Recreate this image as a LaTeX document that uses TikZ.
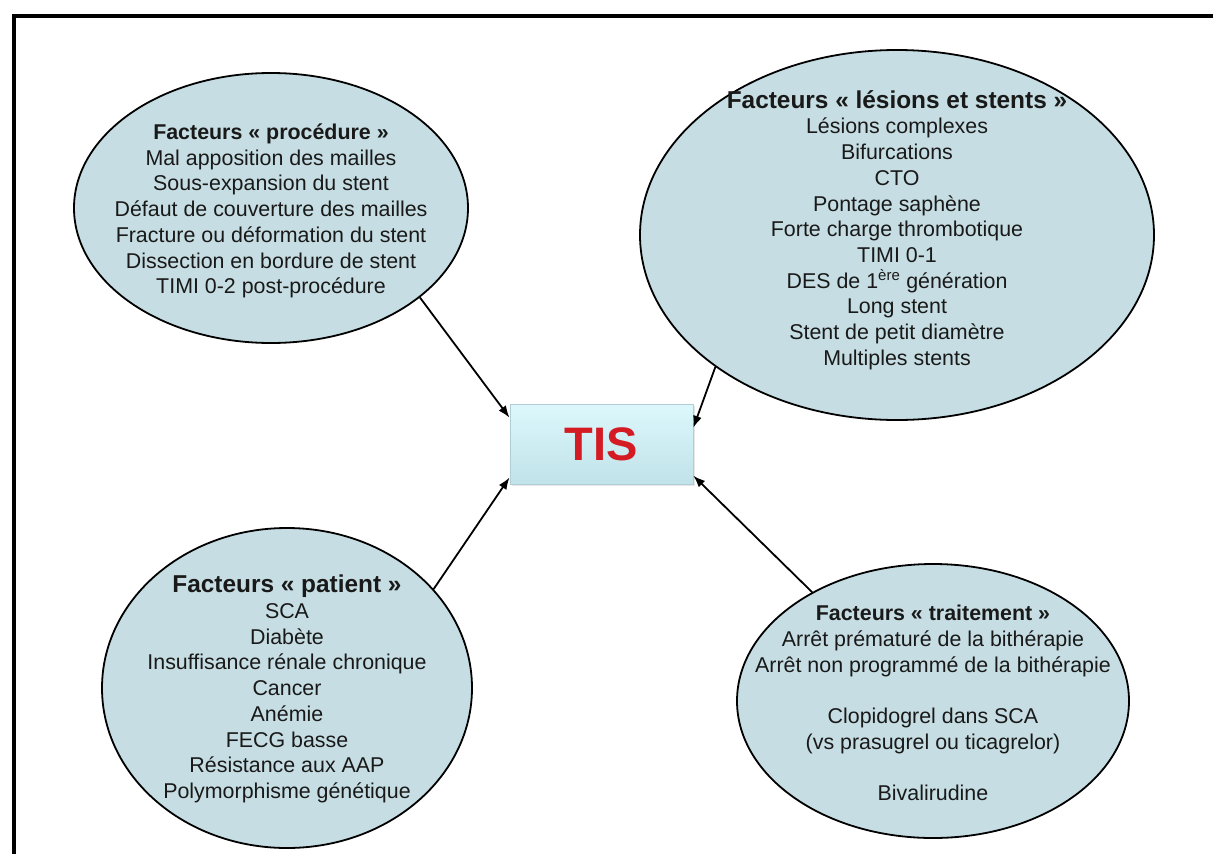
\documentclass[tikz,border=0pt]{standalone}
\usepackage{fontspec}
\setmainfont{Liberation Sans}
\usetikzlibrary{arrows.meta,shapes.geometric,shadows}

\definecolor{ovalfill}{RGB}{198,222,227}
\definecolor{boxtop}{RGB}{220,248,252}
\definecolor{boxbottom}{RGB}{192,226,233}
\definecolor{boxline}{RGB}{176,206,212}
\definecolor{tisred}{RGB}{212,26,34}

\begin{document}
\begin{tikzpicture}[x=1pt,y=-1pt,
  factor/.style={draw,ellipse,fill=ovalfill,line width=1.8pt,inner sep=0pt},
  factortext/.style={align=center,text=black!90,font=\fontsize{21.4}{25.7}\selectfont},
  link/.style={-{Latex[length=12pt,width=9pt]},line width=1.8pt}]
  \useasboundingbox (0,0) rectangle (1213,854);
  \draw[line width=4pt] (13.5,854) -- (13.5,16) -- (1213,16);

  \node[factor,minimum width=394pt,minimum height=270pt] (proc) at (271,208) {};
  \node[factortext] (proctext) at (271,211) {\textbf{Facteurs « procédure »}\\
    Mal apposition des mailles\\ Sous-expansion du stent\\
    Défaut de couverture des mailles\\ Fracture ou déformation du stent\\
    Dissection en bordure de stent\\ TIMI 0-2 post-procédure};

  \node[factor,minimum width=514pt,minimum height=370pt] (lesions) at (897,235) {};
  \node[factortext] (lesionstext) at (897,230) {{\fontsize{24.4}{27}\selectfont\bfseries Facteurs « lésions et stents »}\\
    Lésions complexes\\ Bifurcations\\ CTO\\ Pontage saphène\\
    Forte charge thrombotique\\ TIMI 0-1\\ DES de 1\textsuperscript{ère} génération\\
    Long stent\\ Stent de petit diamètre\\ Multiples stents};

  \node[factor,minimum width=370pt,minimum height=320pt] (patient) at (287,688) {};
  \node[factortext] (patienttext) at (287,689) {{\fontsize{24.4}{27}\selectfont\bfseries Facteurs « patient »}\\
    SCA\\ Diabète\\ Insuffisance rénale chronique\\ Cancer\\ Anémie\\
    FECG basse\\ Résistance aux AAP\\ Polymorphisme génétique};

  \node[factor,minimum width=392pt,minimum height=274pt] (trait) at (933,701) {};
  \node[factortext] (traittext) at (933,703) {\textbf{Facteurs « traitement »}\\
    Arrêt prématuré de la bithérapie\\ Arrêt non programmé de la bithérapie\\
    \mbox{}\\ Clopidogrel dans SCA\\ (vs prasugrel ou ticagrelor)\\
    \mbox{}\\ Bivalirudine};

  \node[draw=boxline,line width=0.8pt,top color=boxtop,bottom color=boxbottom,
    minimum width=183pt,minimum height=80pt,
    drop shadow={opacity=0.2,shadow xshift=2pt,shadow yshift=-2pt},
    text=tisred,font=\fontsize{47}{50}\selectfont\bfseries] (tis) at (601.4,444) {TIS};

  \draw[link] (proc.-31) -- (tis.164);
  \draw[link] (lesions.216) -- (tis.10);
  \draw[link] (patient.34) -- (tis.200);
  \draw[link] (trait.138) -- (tis.341);
\end{tikzpicture}
\end{document}
